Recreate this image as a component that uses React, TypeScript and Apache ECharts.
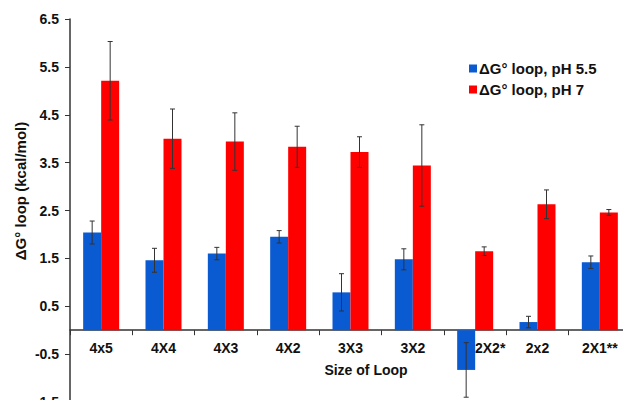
import React, { useEffect, useRef } from "react";
import * as echarts from "echarts";

const categories = ["4x5", "4X4", "4X3", "4X2", "3X3", "3X2", "2X2*", "2x2", "2X1**"];
const ph55 = [2.04, 1.46, 1.6, 1.95, 0.79, 1.48, -0.83, 0.17, 1.42];
const ph55Err = [0.24, 0.25, 0.13, 0.13, 0.39, 0.22, 0.57, 0.12, 0.13];
const ph7 = [5.21, 4.0, 3.94, 3.83, 3.72, 3.44, 1.65, 2.63, 2.46];
const ph7Err = [0.82, 0.62, 0.6, 0.43, 0.32, 0.85, 0.09, 0.3, 0.06];
const seriesNames = ["ΔG° loop, pH 5.5", "ΔG° loop, pH 7"];

const BLUE = "#0a5ad2";
const RED = "#ff0000";
const BAR_W = 18;
const Y_MIN = -1.5;
const Y_MAX = 6.5;
const GRID_TOP = 19;
const GRID_BOTTOM = 6;
const H = 408;

function errorSeries(values: number[], errs: number[], offset: number) {
  return {
    type: "custom",
    silent: true,
    z: 10,
    data: values.map((v, i) => [i, v - errs[i], v + errs[i]]),
    renderItem: (params: any, api: any) => {
      const i = api.value(0);
      const lo = api.coord([i, api.value(1)]);
      const hi = api.coord([i, api.value(2)]);
      const x = lo[0] + offset;
      const cap = 2.5;
      const style = { stroke: "#333", lineWidth: 1 };
      return {
        type: "group",
        children: [
          { type: "line", shape: { x1: x, y1: hi[1], x2: x, y2: lo[1] }, style },
          { type: "line", shape: { x1: x - cap, y1: hi[1], x2: x + cap, y2: hi[1] }, style },
          { type: "line", shape: { x1: x - cap, y1: lo[1], x2: x + cap, y2: lo[1] }, style },
        ],
      };
    },
  };
}

export default function App() {
  const ref = useRef<HTMLDivElement>(null);
  useEffect(() => {
    if (!ref.current) return;
    const chart = echarts.init(ref.current, undefined, { renderer: "svg" });
    const font = "Liberation Sans, Arial, sans-serif";
    const plotH = H - GRID_TOP - GRID_BOTTOM;
    const zeroOffset = -(plotH * (0 - Y_MIN)) / (Y_MAX - Y_MIN);
    // label of a category whose bar dips below zero is nudged right, as in the reference
    const catData = categories.map((c, i) =>
      ph55[i] < 0 ? { value: c, textStyle: { padding: [0, 0, 0, 30] } } : c
    );
    chart.setOption({
      animation: false,
      textStyle: { fontFamily: font },
      grid: { left: 70, right: 0, top: GRID_TOP, bottom: GRID_BOTTOM, containLabel: false, outerBoundsMode: "none" },
      legend: {
        data: seriesNames,
        orient: "vertical",
        left: 464,
        top: 56,
        itemWidth: 8,
        itemHeight: 8,
        itemGap: 6,
        icon: "rect",
        textStyle: { fontFamily: font, fontWeight: "bold", fontSize: 15, color: "#111", padding: [0, 0, 0, -3] },
      },
      xAxis: {
        type: "category",
        data: catData,
        position: "bottom",
        offset: zeroOffset,
        axisLine: { onZero: false, lineStyle: { color: "#333", width: 1.5 } },
        axisTick: { show: true, inside: false, length: 5, lineStyle: { color: "#333" } },
        axisLabel: { color: "#111", fontWeight: "bold", fontSize: 14, margin: 11, fontFamily: font },
        splitLine: { show: false },
      },
      yAxis: {
        type: "value",
        min: Y_MIN,
        max: Y_MAX,
        interval: 1,
        axisLine: { show: true, lineStyle: { color: "#333", width: 1.5 } },
        axisTick: { show: true, length: 5, lineStyle: { color: "#333" } },
        axisLabel: {
          color: "#111",
          fontWeight: "bold",
          fontSize: 14,
          margin: 11,
          fontFamily: font,
          formatter: (v: number) => v.toFixed(1),
        },
        splitLine: { show: false },
      },
      graphic: [
        {
          type: "text",
          x: 20,
          y: 191,
          rotation: Math.PI / 2,
          style: {
            text: "ΔG° loop (kcal/mol)",
            font: `bold 15px ${font}`,
            fill: "#111",
            align: "center",
            verticalAlign: "middle",
          },
        },
        {
          type: "text",
          x: 366,
          y: 370,
          style: {
            text: "Size of Loop",
            font: `bold 14px ${font}`,
            fill: "#111",
            align: "center",
            verticalAlign: "middle",
          },
        },
      ],
      series: [
        {
          name: seriesNames[0],
          type: "bar",
          data: ph55,
          barWidth: BAR_W,
          barGap: "0%",
          itemStyle: { color: BLUE },
        },
        {
          name: seriesNames[1],
          type: "bar",
          data: ph7,
          barWidth: BAR_W,
          barGap: "0%",
          itemStyle: { color: RED },
        },
        errorSeries(ph55, ph55Err, -BAR_W / 2),
        errorSeries(ph7, ph7Err, BAR_W / 2),
      ],
    });
    return () => chart.dispose();
  }, []);
  return <div ref={ref} style={{ width: 631, height: 408, margin: -8 }} />;
}
